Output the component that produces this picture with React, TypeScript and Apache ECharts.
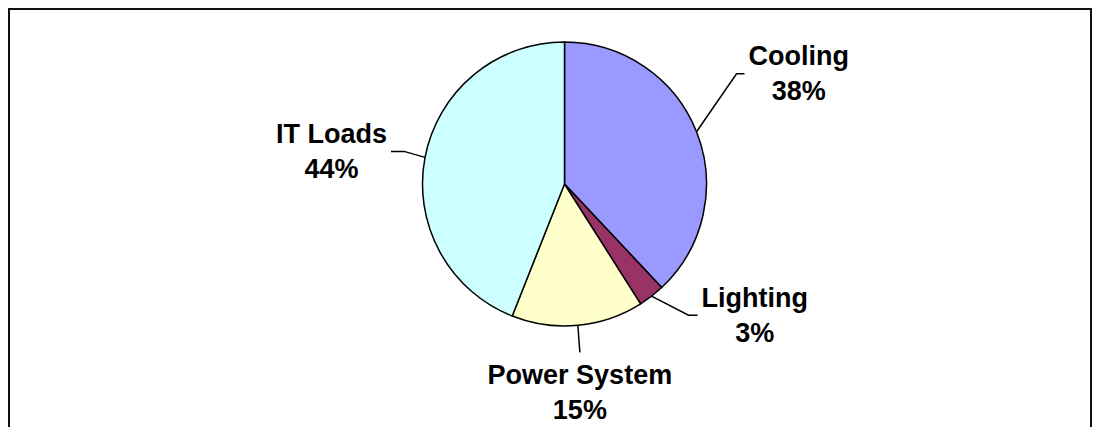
import { useEffect, useRef } from 'react';
import * as echarts from 'echarts';

// Share of facility energy use, in percent
const categories = ['Cooling', 'Lighting', 'Power System', 'IT Loads'];
const shares = [38, 3, 15, 44];
const sliceColors = ['#9999FF', '#993366', '#FFFFCC', '#CCFFFF'];

// Leader-line routing per slice: elbow offset from the slice edge, then a short
// horizontal run, and which side of the line end the label sits on.
const leaders = [
  { dx: 40, dy: -58, run: 8, side: 'right' },
  { dx: 37, dy: 19, run: 9, side: 'right' },
  { dx: 2, dy: 27, run: 0, side: 'below' },
  { dx: -21, dy: -6, run: -13, side: 'left' },
];

const TEXT_GAP = 4;
const TEXT_GAP_BELOW = 5;

export default function App() {
  const ref = useRef<HTMLDivElement>(null);

  useEffect(() => {
    const chart = echarts.init(ref.current!, null, { renderer: 'svg' });
    chart.setOption({
      animation: false,
      backgroundColor: '#ffffff',
      graphic: [
        {
          type: 'rect',
          silent: true,
          shape: { x: 9, y: 9, width: 1082, height: 440 },
          style: { fill: 'none', stroke: '#111111', lineWidth: 2 },
        },
      ],
      series: [
        {
          type: 'pie',
          center: [564.5, 184],
          radius: 142,
          startAngle: 90,
          clockwise: true,
          avoidLabelOverlap: false,
          itemStyle: { borderColor: '#000000', borderWidth: 1.5 },
          label: {
            show: true,
            position: 'outside',
            formatter: '{b}\n{c}%',
            fontFamily: '"Liberation Sans", Arial, sans-serif',
            fontWeight: 'bold',
            fontSize: 27,
            lineHeight: 35,
            color: '#000000',
            align: 'center',
          },
          labelLine: {
            show: true,
            length: 20,
            length2: 10,
            lineStyle: { color: '#000000', width: 1.5 },
          },
          labelLayout: (params: any) => {
            const lead = leaders[params.dataIndex];
            const pts = params.labelLinePoints;
            const start = pts && pts[0] ? [pts[0][0], pts[0][1]] : [0, 0];
            const elbow = [start[0] + lead.dx, start[1] + lead.dy];
            const end = [elbow[0] + lead.run, elbow[1]];
            const w = params.labelRect.width;
            const h = params.labelRect.height;
            let x = end[0];
            let y = end[1];
            if (lead.side === 'right') x = end[0] + TEXT_GAP + w / 2;
            else if (lead.side === 'left') x = end[0] - TEXT_GAP - w / 2;
            else y = end[1] + TEXT_GAP_BELOW + h / 2;
            const linePts = lead.run === 0 ? [start, elbow] : [start, elbow, end];
            return {
              x,
              y,
              align: 'center',
              verticalAlign: 'middle',
              labelLinePoints: linePts,
            };
          },
          emphasis: { disabled: true },
          data: categories.map((name, i) => ({
            name,
            value: shares[i],
            itemStyle: { color: sliceColors[i] },
          })),
        },
      ],
    });
    return () => chart.dispose();
  }, []);

  return (
    <div
      ref={ref}
      style={{ position: 'fixed', left: 0, top: 0, width: 1093, height: 427 }}
    />
  );
}
